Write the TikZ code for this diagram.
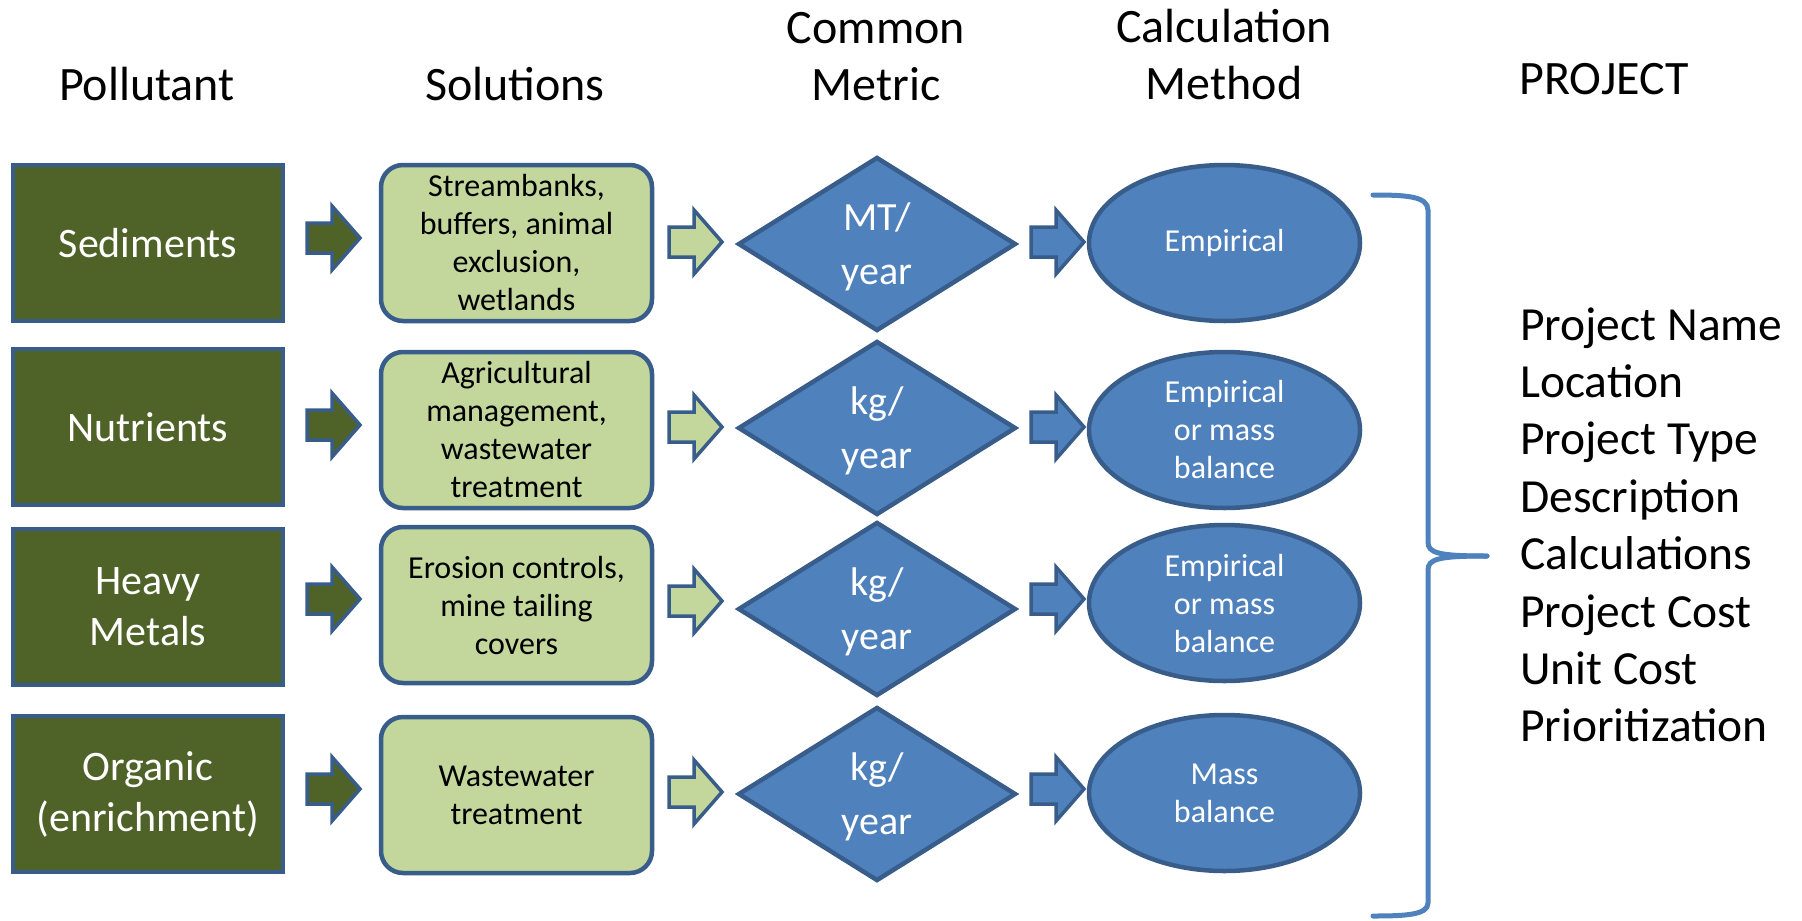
\documentclass[tikz,border=0pt]{standalone}
\usepackage{fontspec}
\setmainfont{Carlito}
\usetikzlibrary{shapes.geometric,calc}
\definecolor{dgreen}{HTML}{4F6228}
\definecolor{lgreen}{HTML}{C3D69B}
\definecolor{mblue}{HTML}{4F81BD}
\definecolor{eblue}{HTML}{385D8A}
\newcommand\blkarrow[3]{%
  \draw[#1] (#2,#3-15) -- (#2+25,#3-15) -- (#2+25,#3-32) -- (#2+53,#3)
    -- (#2+25,#3+32) -- (#2+25,#3+15) -- (#2,#3+15) -- cycle;}
\begin{document}
\begin{tikzpicture}[x=1pt,y=-1pt,
  pol/.style={rectangle, draw=eblue, fill=dgreen, line width=4.5pt,
    minimum width=270pt, minimum height=156pt, text=white, align=center,
    font=\fontsize{42}{51}\selectfont, inner sep=0pt},
  sol/.style={rectangle, rounded corners=22pt, draw=eblue, fill=lgreen, line width=4.5pt,
    minimum width=271pt, minimum height=156pt, text=black, align=center,
    font=\fontsize{32}{38}\selectfont, inner sep=0pt},
  met/.style={diamond, draw=eblue, fill=mblue, line width=4.5pt,
    minimum width=278pt, minimum height=174pt, inner sep=0pt},
  mtxt/.style={text=white, align=center,
    font=\fontsize{40}{54}\selectfont, inner sep=0pt},
  calc/.style={ellipse, draw=eblue, fill=mblue, line width=4.5pt,
    minimum width=271pt, minimum height=156pt, text=white, align=center,
    font=\fontsize{32}{38}\selectfont, inner sep=0pt},
  hdr/.style={align=center, font=\fontsize{48}{57}\selectfont, inner sep=0pt},
  lst/.style={anchor=base west, font=\fontsize{47.5}{57}\selectfont, inner sep=0pt},
  darr/.style={draw=eblue, fill=dgreen, line width=3.5pt},
  larr/.style={draw=eblue, fill=lgreen, line width=3.5pt},
  barr/.style={draw=eblue, fill=mblue, line width=3.5pt},
  brace/.style={draw=mblue, line width=5pt, line cap=round}
]
\useasboundingbox (0,0) rectangle (1802,921);

% headers
\node[hdr] (h1) at (147,84) {Pollutant};
\node[hdr] (h2) at (515,84) {Solutions};
\node[hdr] (h3) at (876,57) {Common\\Metric};
\node[hdr] (h4) at (1224,55) {Calculation\\Method};
\node[hdr] (h5) at (1604,79) {PROJECT};

% pollutants
\node[pol] (p1) at (148,243) {Sediments};
\node[pol] (p2) at (148,427) {Nutrients};
\node[pol] (p3) at (148,607) {Heavy\\Metals};
\node[pol] (p4) at (148,794) {Organic\\(enrichment)};

% solutions
\node[sol] (s1) at (516.5,243) {Streambanks,\\buffers, animal\\exclusion,\\wetlands};
\node[sol] (s2) at (516.5,430) {Agricultural\\management,\\wastewater\\treatment};
\node[sol] (s3) at (516.5,605) {Erosion controls,\\mine tailing\\covers};
\node[sol] (s4) at (516.5,795) {Wastewater\\treatment};

% metrics
\node[met] (m1) at (877,244) {};
\node[met] (m2) at (877,428) {};
\node[met] (m3) at (877,609) {};
\node[met] (m4) at (877,794) {};
\node[mtxt] (t1) at ($(m1.center)+(0,3)$) {MT/\\year};
\node[mtxt] (t2) at ($(m2.center)+(0,3)$) {kg/\\year};
\node[mtxt] (t3) at ($(m3.center)+(0,3)$) {kg/\\year};
\node[mtxt] (t4) at ($(m4.center)+(0,3)$) {kg/\\year};

% calculation methods
\node[calc] (c1) at (1224.5,243) {Empirical};
\node[calc] (c2) at (1224.5,430) {Empirical\\or mass\\balance};
\node[calc] (c3) at (1224.5,603) {Empirical\\or mass\\balance};
\node[calc] (c4) at (1224.5,793) {Mass\\balance};

% block arrows
\blkarrow{darr}{307}{238}
\blkarrow{darr}{307}{425}
\blkarrow{darr}{307}{599}
\blkarrow{darr}{307}{789}
\blkarrow{larr}{669}{242}
\blkarrow{larr}{669}{427}
\blkarrow{larr}{669}{601}
\blkarrow{larr}{669}{792}
\blkarrow{barr}{1031}{242}
\blkarrow{barr}{1031}{427}
\blkarrow{barr}{1031}{599}
\blkarrow{barr}{1031}{789}

% brace
\coordinate (btip) at (1487,556);
\draw[brace] (1373,195) .. controls (1405,195) and (1428,196) .. (1428,210)
  -- (1428,542) .. controls (1428,553) and (1438,556) .. (btip);
\draw[brace] (btip) .. controls (1438,556) and (1428,559) .. (1428,570)
  -- (1428,903) .. controls (1428,915) and (1405,916) .. (1373,916);

% project list
\node[lst] (l1) at (1520,340) {Project Name};
\node[lst] (l2) at (1520,397.4) {Location};
\node[lst] (l3) at (1520,454.8) {Project Type};
\node[lst] (l4) at (1520,512.2) {Description};
\node[lst] (l5) at (1520,569.6) {Calculations};
\node[lst] (l6) at (1520,627) {Project Cost};
\node[lst] (l7) at (1520,684.4) {Unit Cost};
\node[lst] (l8) at (1520,741.8) {Prioritization};
\end{tikzpicture}
\end{document}
